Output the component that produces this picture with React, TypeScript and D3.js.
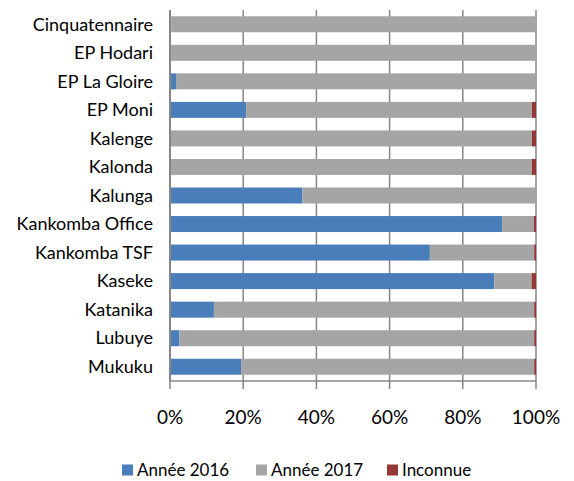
import { useMemo } from "react";
import * as d3 from "d3";

// categories, top to bottom
const sites = [
  "Cinquatennaire",
  "EP Hodari",
  "EP La Gloire",
  "EP Moni",
  "Kalenge",
  "Kalonda",
  "Kalunga",
  "Kankomba Office",
  "Kankomba TSF",
  "Kaseke",
  "Katanika",
  "Lubuye",
  "Mukuku",
];

// shares in %
const annee2016 = [0.4, 0.3, 1.8, 20.8, 0, 0, 36.2, 90.7, 71.0, 88.6, 12.0, 2.5, 19.4];
const inconnue = [0, 0, 0, 1.1, 1.1, 1.1, 0, 0.6, 0.5, 1.2, 0.5, 0.5, 0.5];
const annee2017 = annee2016.map((v, i) => 100 - v - inconnue[i]);

const seriesNames = ["Année 2016", "Année 2017", "Inconnue"];
const colors = ["#4a7ebb", "#a5a5a5", "#953735"];
const tickValues = [0, 20, 40, 60, 80, 100];

const W = 574;
const H = 481;
const margin = { top: 10, right: 38, bottom: 100, left: 170 };

export default function App() {
  const rows = useMemo(
    () =>
      sites.map((s, i) => ({
        site: s,
        "Année 2016": annee2016[i],
        "Année 2017": annee2017[i],
        Inconnue: inconnue[i],
      })),
    []
  );

  const stacked = d3.stack<any>().keys(seriesNames)(rows);

  const innerW = W - margin.left - margin.right;
  const innerH = H - margin.top - margin.bottom;

  const x = d3.scaleLinear().domain([0, 100]).range([0, innerW]);
  const y = d3.scaleBand().domain(sites).range([0, innerH]).paddingInner(0.44).paddingOuter(0.22);

  const font = "Lato, 'Open Sans', sans-serif";

  // legend layout
  const legendX = [122, 256, 387];

  return (
    <svg
      width={W}
      height={H}
      style={{ position: "absolute", left: 0, top: 0, background: "#fff" }}
      fontFamily={font}
    >
      <g transform={`translate(${margin.left},${margin.top})`}>
        {/* gridlines */}
        {tickValues.map((t) => (
          <line
            key={"g" + t}
            x1={x(t)}
            x2={x(t)}
            y1={0}
            y2={innerH + 8}
            stroke="#868686"
            strokeWidth={1.5}
          />
        ))}

        {/* bars */}
        {stacked.map((layer, li) => (
          <g key={layer.key} fill={colors[li]}>
            {layer.map((d, i) => (
              <rect
                key={i}
                x={x(d[0])}
                y={y(sites[i])}
                width={Math.max(0, x(d[1]) - x(d[0]))}
                height={y.bandwidth()}
              />
            ))}
          </g>
        ))}

        {/* axes */}
        <line x1={0} x2={0} y1={0} y2={innerH} stroke="#868686" strokeWidth={2} />
        <line x1={0} x2={innerW} y1={innerH} y2={innerH} stroke="#868686" strokeWidth={1.5} />

        {/* category labels */}
        {sites.map((s) => (
          <text
            key={s}
            x={-17}
            y={(y(s) ?? 0) + y.bandwidth() / 2}
            dy="0.35em"
            textAnchor="end"
            fontSize={18}
            fill="#000"
          >
            {s}
          </text>
        ))}

        {/* tick labels */}
        {tickValues.map((t) => (
          <text
            key={"t" + t}
            x={x(t)}
            y={innerH + 43}
            textAnchor="middle"
            fontSize={19}
            fill="#000"
          >
            {t}%
          </text>
        ))}
      </g>

      {/* legend */}
      {seriesNames.map((n, i) => (
        <g key={n} transform={`translate(${legendX[i]},470)`}>
          <rect x={0} y={-5.5} width={11} height={11} fill={colors[i]} />
          <text x={15} dy="0.35em" fontSize={17} fill="#000">
            {n}
          </text>
        </g>
      ))}
    </svg>
  );
}
